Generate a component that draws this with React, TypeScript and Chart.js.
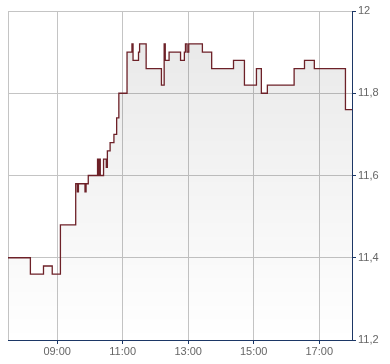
import React, { useEffect, useRef } from "react";
import { Chart, registerables } from "chart.js";

Chart.register(...registerables);

// Time of each price change (HH:MM) and the price from that time on
const times: string[] = [
  "07:30", "08:11", "08:35", "08:51", "09:06", "09:34", "09:37", "09:39", "09:51", "09:53",
  "09:57", "10:14", "10:16", "10:17", "10:19", "10:25", "10:30", "10:32", "10:37", "10:44",
  "10:49", "10:53", "11:08", "11:17", "11:19", "11:29", "11:31", "11:43", "12:11", "12:16",
  "12:18", "12:25", "12:46", "12:53", "12:55", "12:58", "13:01", "13:26", "13:43", "14:23",
  "14:43", "15:05", "15:14", "15:25", "16:14", "16:33", "16:51", "17:48", "18:00",
];
const prices: number[] = [
  11.40, 11.36, 11.38, 11.36, 11.48, 11.58, 11.56, 11.58, 11.56, 11.58,
  11.60, 11.64, 11.60, 11.64, 11.60, 11.64, 11.62, 11.66, 11.68, 11.70,
  11.74, 11.80, 11.90, 11.92, 11.88, 11.90, 11.92, 11.86, 11.82, 11.92,
  11.88, 11.90, 11.88, 11.90, 11.92, 11.90, 11.92, 11.90, 11.86, 11.88,
  11.82, 11.86, 11.80, 11.82, 11.86, 11.88, 11.86, 11.76, 11.76,
];
const xTickHours: number[] = [7.5, 9, 11, 13, 15, 17];
const yMin = 11.2;
const yMax = 12;
const yStep = 0.2;

const toHours = (s: string) => {
  const [h, m] = s.split(":").map(Number);
  return h + m / 60;
};

const NAVY = "#1c3766";
const GRID = "#c4c4c4";
const LABEL = "#666666";

export default function App() {
  const ref = useRef<HTMLCanvasElement | null>(null);

  useEffect(() => {
    if (!ref.current) return;
    const data = times.map((t, i) => ({ x: toHours(t), y: prices[i] }));
    const chart = new Chart(ref.current, {
      type: "line",
      data: {
        datasets: [
          {
            data,
            stepped: true,
            borderColor: "#6d2128",
            borderWidth: 1.3,
            pointRadius: 0,
            fill: "start",
            backgroundColor: (ctx: any) => {
              const area = ctx.chart.chartArea;
              if (!area) return "rgba(0,0,0,0.05)";
              const g = ctx.chart.ctx.createLinearGradient(0, area.top, 0, area.bottom);
              g.addColorStop(0, "rgba(0,0,0,0.095)");
              g.addColorStop(1, "rgba(0,0,0,0.0)");
              return g;
            },
          },
        ],
      },
      options: {
        responsive: false,
        animation: false,
        layout: { padding: { left: 8, top: 11, right: 0, bottom: 0 } },
        plugins: { legend: { display: false }, tooltip: { enabled: false } },
        scales: {
          x: {
            type: "linear",
            min: 7.5,
            max: 18,
            afterBuildTicks: (scale: any) => {
              scale.ticks = xTickHours.map((v) => ({ value: v }));
            },
            afterFit: (scale: any) => {
              scale.height = 24;
            },
            ticks: {
              autoSkip: false,
              maxRotation: 0,
              padding: 1,
              color: LABEL,
              font: { family: "Arial, 'Liberation Sans', sans-serif", size: 11 },
              callback: (v: any) => {
                const n = Number(v);
                if (n === 7.5) return "";
                return String(n).padStart(2, "0") + ":00";
              },
            },
            grid: {
              color: GRID,
              lineWidth: 1,
              tickLength: 4,
              tickColor: (ctx: any) => (ctx.tick && ctx.tick.value === 7.5 ? "rgba(0,0,0,0)" : NAVY),
            },
            border: { color: NAVY, width: 1 },
          },
          y: {
            position: "right",
            min: yMin,
            max: yMax,
            afterFit: (scale: any) => {
              scale.width = 38;
            },
            ticks: {
              stepSize: yStep,
              padding: 2,
              color: LABEL,
              font: { family: "Arial, 'Liberation Sans', sans-serif", size: 11 },
              callback: (v: any) => {
                const n = Math.round(Number(v) * 10) / 10;
                if (Math.abs(n - Math.round(n)) < 1e-9) return String(Math.round(n));
                return n.toFixed(1).replace(".", ",");
              },
            },
            grid: { color: GRID, lineWidth: 1, tickLength: 4, tickColor: NAVY },
            border: { color: NAVY, width: 1 },
          },
        },
      },
    } as any);
    return () => chart.destroy();
  }, []);

  return (
    <canvas
      ref={ref}
      width={390}
      height={364}
      style={{ position: "absolute", left: 0, top: 0, display: "block", background: "#fff" }}
    />
  );
}
